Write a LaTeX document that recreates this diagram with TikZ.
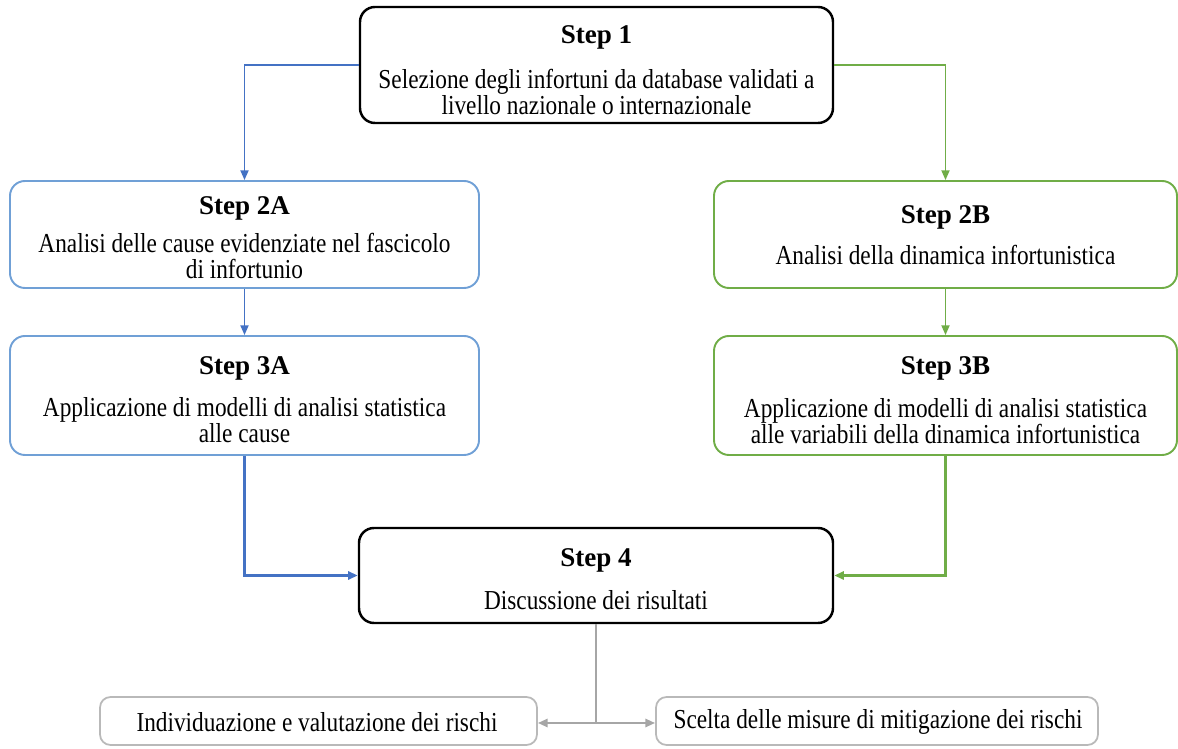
\documentclass[tikz,border=0pt]{standalone}
\usepackage{fontspec}
\setmainfont{Liberation Serif}
\newfontfamily\narrowserif[FakeStretch=0.85]{Liberation Serif}
\usetikzlibrary{arrows.meta}

\definecolor{blueedge}{RGB}{112,160,214}
\definecolor{blueline}{RGB}{68,114,196}
\definecolor{greenline}{RGB}{112,173,71}
\definecolor{grayline}{RGB}{166,166,166}
\definecolor{grayedge}{RGB}{185,185,185}

\begin{document}
\begin{tikzpicture}[x=0.02cm,y=-0.02cm,
  box/.style={draw, rounded corners=8.5pt, inner sep=0pt},
  blackbox/.style={box, draw=black, line width=1.4pt},
  bluebox/.style={box, draw=blueedge, line width=1.1pt},
  greenbox/.style={box, draw=greenline, line width=1.1pt},
  graybox/.style={box, draw=grayedge, line width=1pt, rounded corners=6pt},
  steptitle/.style={font=\fontsize{15.4}{18}\selectfont\bfseries, inner sep=0pt},
  stepbody/.style={font=\narrowserif\fontsize{15.6}{14.6}\selectfont, align=center, inner sep=0pt},
  tip/.style={-{Triangle[length=5.5pt,width=4.6pt]}},
  thinline/.style={tip, line width=0.85pt},
  thickline/.style={tip, line width=1.4pt}]

\useasboundingbox (0,0) rectangle (1178,749);

% step boxes
\node[blackbox, minimum width=473*0.02cm, minimum height=116*0.02cm] (s1) at (596.5,65) {};
\node[bluebox, minimum width=469*0.02cm, minimum height=107*0.02cm] (s2a) at (244.5,234.5) {};
\node[greenbox, minimum width=463*0.02cm, minimum height=107*0.02cm] (s2b) at (945.5,234.5) {};
\node[bluebox, minimum width=469*0.02cm, minimum height=119*0.02cm] (s3a) at (244.5,395.5) {};
\node[greenbox, minimum width=463*0.02cm, minimum height=119*0.02cm] (s3b) at (945.5,395.5) {};
\node[blackbox, minimum width=474*0.02cm, minimum height=95*0.02cm] (s4) at (596,575.5) {};
\node[graybox, minimum width=437*0.02cm, minimum height=48*0.02cm] (r1) at (318.5,721) {};
\node[graybox, minimum width=442*0.02cm, minimum height=48*0.02cm] (r2) at (877,721) {};

% texts
\node[steptitle] (s1t) at (596.5,37) {Step 1};
\node[stepbody] (s1b) at (596.5,92) {Selezione degli infortuni da database validati a\\livello nazionale o internazionale};
\node[steptitle] (s2at) at (244.5,208) {Step 2A};
\node[stepbody] (s2ab) at (244.5,256) {Analisi delle cause evidenziate nel fascicolo\\di infortunio};
\node[steptitle] (s2bt) at (945.5,217) {Step 2B};
\node[stepbody] (s2bb) at (945.5,255) {Analisi della dinamica infortunistica};
\node[steptitle] (s3at) at (244.5,368) {Step 3A};
\node[stepbody] (s3ab) at (244.5,420) {Applicazione di modelli di analisi statistica\\alle cause};
\node[steptitle] (s3bt) at (945.5,368) {Step 3B};
\node[stepbody] (s3bb) at (945.5,421) {Applicazione di modelli di analisi statistica\\alle variabili della dinamica infortunistica};
\node[steptitle] (s4t) at (596,560) {Step 4};
\node[stepbody] (s4b) at (596,600) {Discussione dei risultati};
\node[stepbody] (r1t) at (317,722) {Individuazione e valutazione dei rischi};
\node[stepbody] (r2t) at (878,722) {Scelta delle misure di mitigazione dei rischi};

% connectors
\draw[thinline, blueline] (s1.west) -| (s2a.north);
\draw[thinline, greenline] (s1.east) -| (s2b.north);
\draw[thinline, blueline] (s2a.south) -- (s3a.north);
\draw[thinline, greenline] (s2b.south) -- (s3b.north);
\draw[thickline, blueline] (s3a.south) |- (s4.west);
\draw[thickline, greenline] (s3b.south) |- (s4.east);
\coordinate (split) at (s4.south |- 0,723);
\draw[line width=1.3pt, grayline] (s4.south) -- (split);
\draw[tip, line width=1.3pt, grayline] (split) -- (r1.east |- split);
\draw[tip, line width=1.3pt, grayline] (split) -- (r2.west |- split);
\end{tikzpicture}
\end{document}
